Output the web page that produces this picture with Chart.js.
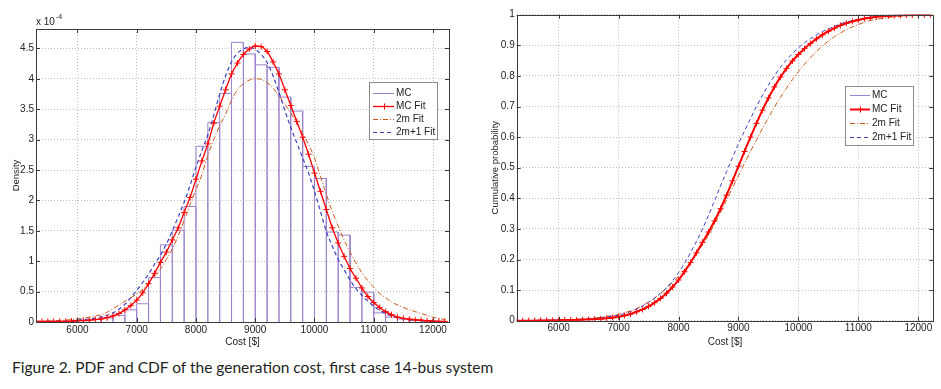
<!DOCTYPE html>
<html>
<head>
<meta charset="utf-8">
<script src="https://cdn.jsdelivr.net/npm/chart.js@4.4.1/dist/chart.umd.min.js"></script>
<style>
  html, body { margin: 0; padding: 0; background: #fff; }
  #wrap { position: relative; width: 941px; height: 389px; overflow: hidden; }
  #pdf { position: absolute; left: 0; top: 0; }
  #cdf { position: absolute; left: 470px; top: 0; }
  #caption { position: absolute; left: 12px; top: 360px; font: 15.5px Lato, 'Open Sans', sans-serif; line-height: 1; color: #231f20; white-space: nowrap; }
</style>
</head>
<body>
<div id="wrap">
  <canvas id="pdf" width="460" height="350"></canvas>
  <canvas id="cdf" width="471" height="350"></canvas>
  <div id="caption">Figure 2. PDF and CDF of the generation cost, first case 14-bus system</div>
</div>
<script>
// ---- data ----
var seriesLabels = ['MC', 'MC Fit', '2m Fit', '2m+1 Fit'];

var costTicks = [6000, 7000, 8000, 9000, 10000, 11000, 12000];
var densityTicks = [0, 0.5, 1, 1.5, 2, 2.5, 3, 3.5, 4, 4.5];   // x 10^-4
var probTicks = [0, 0.1, 0.2, 0.3, 0.4, 0.5, 0.6, 0.7, 0.8, 0.9, 1];

// histogram of the Monte Carlo samples (bin centres, density x 10^-4)
var histCenters = [5500, 5700, 5900, 6100, 6300, 6500, 6700, 6900, 7100, 7300,
  7500, 7700, 7900, 8100, 8300, 8500, 8700, 8900, 9100, 9300,
  9500, 9700, 9900, 10100, 10300, 10500, 10700, 10900, 11100, 11300,
  11500, 11700, 11900, 12100];
var histDensity = [0.01, 0.01, 0.01, 0.02, 0.04, 0.07, 0.11, 0.20, 0.30, 0.73,
  1.27, 1.51, 1.90, 2.89, 3.28, 3.76, 4.60, 4.41, 4.23, 4.19,
  3.70, 3.47, 2.56, 2.36, 1.48, 1.43, 0.57, 0.49, 0.15, 0.08,
  0.05, 0.03, 0.02, 0.01];

// cost grid for the fitted curves
var costs = [5300, 5400, 5500, 5600, 5700, 5800, 5900, 6000, 6100, 6200,
  6300, 6400, 6500, 6600, 6700, 6800, 6900, 7000, 7100, 7200,
  7300, 7400, 7500, 7600, 7700, 7800, 7900, 8000, 8100, 8200,
  8300, 8400, 8500, 8600, 8700, 8800, 8900, 9000, 9100, 9200,
  9300, 9400, 9500, 9600, 9700, 9800, 9900, 10000, 10100, 10200,
  10300, 10400, 10500, 10600, 10700, 10800, 10900, 11000, 11100, 11200,
  11300, 11400, 11500, 11600, 11700, 11800, 11900, 12000, 12100, 12200];

var pdfMcFit = [0.01, 0.01, 0.01, 0.01, 0.01, 0.01, 0.015, 0.02, 0.025, 0.03,
  0.04, 0.05, 0.07, 0.10, 0.14, 0.20, 0.27, 0.36, 0.48, 0.63,
  0.80, 0.98, 1.15, 1.35, 1.55, 1.80, 2.05, 2.35, 2.65, 2.93,
  3.27, 3.55, 3.82, 4.08, 4.26, 4.40, 4.49, 4.54, 4.53, 4.45,
  4.28, 4.08, 3.82, 3.56, 3.30, 3.04, 2.76, 2.45, 2.15, 1.85,
  1.55, 1.30, 1.08, 0.88, 0.72, 0.56, 0.42, 0.32, 0.24, 0.17,
  0.12, 0.08, 0.06, 0.045, 0.035, 0.03, 0.02, 0.015, 0.01, 0.01];

var pdf2m = [0.01, 0.01, 0.015, 0.02, 0.025, 0.03, 0.04, 0.05, 0.065, 0.08,
  0.10, 0.12, 0.16, 0.22, 0.28, 0.34, 0.40, 0.46, 0.54, 0.65,
  0.75, 0.87, 1.03, 1.20, 1.42, 1.67, 1.93, 2.18, 2.42, 2.74,
  3.00, 3.23, 3.42, 3.65, 3.82, 3.92, 3.98, 4.00, 3.99, 3.94,
  3.85, 3.72, 3.58, 3.44, 3.28, 3.10, 2.92, 2.70, 2.40, 2.10,
  1.82, 1.58, 1.35, 1.15, 0.97, 0.81, 0.68, 0.57, 0.47, 0.40,
  0.33, 0.28, 0.24, 0.20, 0.17, 0.14, 0.11, 0.08, 0.06, 0.04];

var pdf2m1 = [0.005, 0.005, 0.01, 0.01, 0.01, 0.015, 0.02, 0.03, 0.04, 0.05,
  0.065, 0.085, 0.11, 0.15, 0.21, 0.29, 0.40, 0.52, 0.65, 0.79,
  0.95, 1.10, 1.28, 1.50, 1.73, 1.97, 2.25, 2.55, 2.82, 3.08,
  3.40, 3.75, 4.05, 4.28, 4.42, 4.49, 4.52, 4.49, 4.40, 4.27,
  4.05, 3.78, 3.48, 3.20, 2.95, 2.70, 2.45, 2.15, 1.82, 1.49,
  1.25, 1.03, 0.86, 0.69, 0.55, 0.44, 0.34, 0.26, 0.19, 0.14,
  0.10, 0.07, 0.05, 0.035, 0.025, 0.02, 0.015, 0.01, 0.01, 0.005];

// empirical CDF of the samples
var mcCdfX = [5400, 5600, 5800, 6000, 6200, 6400, 6600, 6800, 7000, 7200,
  7400, 7600, 7800, 8000, 8200, 8400, 8600, 8800, 9000, 9200,
  9400, 9600, 9800, 10000, 10200, 10400, 10600, 10800, 11000, 11200,
  11400, 11600, 11800, 12000, 12200];
var mcCdf = [0, 0.0005, 0.001, 0.002, 0.002, 0.003, 0.005, 0.008, 0.013, 0.022,
  0.037, 0.059, 0.090, 0.133, 0.190, 0.256, 0.326, 0.410, 0.505, 0.600,
  0.688, 0.764, 0.824, 0.870, 0.906, 0.934, 0.956, 0.972, 0.983, 0.990,
  0.995, 0.997, 0.999, 1, 1];

var cdfMcFit = [0, 0, 0, 0, 0.001, 0.001, 0.001, 0.001, 0.002, 0.002,
  0.002, 0.003, 0.004, 0.005, 0.006, 0.008, 0.010, 0.013, 0.017, 0.022,
  0.029, 0.037, 0.047, 0.059, 0.073, 0.090, 0.110, 0.133, 0.160, 0.190,
  0.222, 0.256, 0.290, 0.326, 0.366, 0.410, 0.457, 0.505, 0.553, 0.600,
  0.645, 0.688, 0.728, 0.764, 0.796, 0.824, 0.849, 0.870, 0.889, 0.906,
  0.921, 0.934, 0.946, 0.956, 0.965, 0.972, 0.978, 0.983, 0.987, 0.990,
  0.993, 0.995, 0.996, 0.997, 0.998, 0.999, 0.999, 1, 1, 1];

var cdf2m = [0, 0, 0.001, 0.001, 0.001, 0.002, 0.002, 0.003, 0.003, 0.004,
  0.005, 0.006, 0.007, 0.009, 0.011, 0.014, 0.017, 0.021, 0.026, 0.032,
  0.040, 0.050, 0.061, 0.074, 0.089, 0.106, 0.125, 0.145, 0.167, 0.192,
  0.219, 0.248, 0.280, 0.316, 0.354, 0.394, 0.434, 0.474, 0.514, 0.553,
  0.591, 0.628, 0.664, 0.698, 0.730, 0.760, 0.788, 0.814, 0.838, 0.860,
  0.880, 0.898, 0.914, 0.928, 0.940, 0.951, 0.960, 0.968, 0.975, 0.981,
  0.985, 0.988, 0.991, 0.993, 0.995, 0.996, 0.997, 0.998, 0.999, 0.999];

var cdf2m1 = [0, 0, 0, 0.001, 0.001, 0.001, 0.002, 0.002, 0.003, 0.003,
  0.004, 0.005, 0.006, 0.008, 0.010, 0.012, 0.015, 0.018, 0.023, 0.030,
  0.038, 0.048, 0.060, 0.074, 0.090, 0.108, 0.131, 0.157, 0.188, 0.222,
  0.260, 0.300, 0.345, 0.392, 0.440, 0.487, 0.533, 0.578, 0.620, 0.660,
  0.700, 0.737, 0.770, 0.800, 0.828, 0.852, 0.873, 0.892, 0.908, 0.922,
  0.934, 0.945, 0.954, 0.962, 0.970, 0.976, 0.981, 0.985, 0.989, 0.992,
  0.994, 0.996, 0.997, 0.998, 0.999, 0.999, 1, 1, 1, 1];

// ---- styling ----
var tickFont = "'Liberation Sans Narrow', 'Liberation Sans', Arial, sans-serif";
Chart.defaults.font.family = tickFont;
Chart.defaults.color = '#222';

var PURPLE = '#9d82cc', RED = '#ff0000', ORANGE = '#c8581a', BLUE = '#3b44c0';
var GRID = '#bdbdbd';

function pts(xs, ys) {
  return xs.map(function(x, i) { return {x: x, y: ys[i]}; });
}

// matlab style bar outlines: every bin drawn as an open rectangle from the axis
function histOutline(centers, heights) {
  var bw = centers[1] - centers[0], out = [];
  centers.forEach(function(c, i) {
    var l = c - bw / 2, r = c + bw / 2;
    out.push({x: l, y: 0}, {x: l, y: heights[i]}, {x: r, y: heights[i]}, {x: r, y: 0});
  });
  return out;
}

// draws the matlab style box, inward ticks, exponent label and legend
var matlabFrame = {
  id: 'matlabFrame',
  afterDraw: function(chart, args, opts) {
    var ctx = chart.ctx, a = chart.chartArea;
    var xs = chart.scales.x, ys = chart.scales.y;
    ctx.save();
    ctx.strokeStyle = '#3a3a3a';
    ctx.lineWidth = 1;
    ctx.setLineDash([]);
    ctx.beginPath();
    xs.ticks.forEach(function(t) {
      var px = Math.round(xs.getPixelForValue(t.value)) + 0.5;
      ctx.moveTo(px, a.bottom); ctx.lineTo(px, a.bottom - 4);
      ctx.moveTo(px, a.top); ctx.lineTo(px, a.top + 4);
    });
    ys.ticks.forEach(function(t) {
      var py = Math.round(ys.getPixelForValue(t.value)) + 0.5;
      ctx.moveTo(a.left, py); ctx.lineTo(a.left + 4, py);
      ctx.moveTo(a.right, py); ctx.lineTo(a.right - 4, py);
    });
    ctx.stroke();
    ctx.strokeRect(Math.round(a.left) + 0.5, Math.round(a.top) + 0.5,
                   Math.round(a.right) - Math.round(a.left), Math.round(a.bottom) - Math.round(a.top));

    if (opts.exponent) {
      var e = opts.exponent;
      ctx.fillStyle = '#222';
      ctx.textBaseline = 'middle';
      ctx.textAlign = 'left';
      ctx.font = '10px ' + tickFont;
      ctx.fillText('x 10', e.x, e.y);
      var w = ctx.measureText('x 10').width;
      ctx.font = '7px ' + tickFont;
      ctx.fillText('-4', e.x + w + 1, e.y - 5);
    }

    if (opts.legend) {
      var L = opts.legend;
      ctx.fillStyle = '#fff';
      ctx.fillRect(L.x, L.y, L.w, L.h);
      ctx.strokeStyle = '#8c8c8c';
      ctx.strokeRect(L.x + 0.5, L.y + 0.5, L.w, L.h);
      ctx.font = '10px ' + tickFont;
      ctx.textBaseline = 'middle';
      ctx.textAlign = 'left';
      chart.data.datasets.forEach(function(ds, i) {
        var ry = Math.round(L.y + L.first + i * L.row) + 0.5;
        ctx.strokeStyle = ds.borderColor;
        ctx.lineWidth = ds.borderWidth;
        ctx.setLineDash(ds.borderDash || []);
        ctx.beginPath();
        ctx.moveTo(L.x + L.s0, ry);
        ctx.lineTo(L.x + L.s1, ry);
        ctx.stroke();
        ctx.setLineDash([]);
        if (ds.pointStyle === 'cross') {
          var mx = Math.round(L.x + (L.s0 + L.s1) / 2) + 0.5;
          ctx.lineWidth = 1;
          ctx.beginPath();
          ctx.moveTo(mx, ry - 3); ctx.lineTo(mx, ry + 3);
          ctx.stroke();
        }
        ctx.fillStyle = '#222';
        ctx.fillText(ds.label, L.x + L.tx, ry);
      });
    }
    ctx.restore();
  }
};

function xAxis(max, height) {
  return {
    type: 'linear', min: 5300, max: max, offset: false,
    afterBuildTicks: function(s) { s.ticks = costTicks.map(function(v) { return {value: v}; }); },
    afterFit: function(s) { s.height = height; },
    ticks: { padding: 2, autoSkip: false, maxRotation: 0, font: {size: 10}, color: '#222',
             callback: function(v) { return String(v); } },
    grid: { color: GRID, drawTicks: false, offset: false },
    border: { display: false, dash: [1, 2] },
    title: { display: true, text: 'Cost [$]', font: {size: 10}, color: '#222', padding: {top: 0, bottom: 1.5} }
  };
}

function yAxis(max, tickList, width, title, titlePad) {
  return {
    type: 'linear', min: 0, max: max,
    afterBuildTicks: function(s) { s.ticks = tickList.map(function(v) { return {value: v}; }); },
    afterFit: function(s) { s.width = width; },
    ticks: { padding: 2, autoSkip: false, font: {size: 10}, color: '#222',
             callback: function(v) { return String(v); } },
    grid: { color: GRID, drawTicks: false },
    border: { display: false, dash: [1, 2] },
    title: { display: true, text: title, font: {size: 9.5}, color: '#222', padding: {top: titlePad, bottom: 0} }
  };
}

var common = {
  responsive: false,
  animation: false,
  events: [],
  plugins: { legend: { display: false }, tooltip: { enabled: false } }
};

// PDF
new Chart(document.getElementById('pdf'), {
  type: 'line',
  data: {
    datasets: [{
      label: seriesLabels[0],
      data: histOutline(histCenters, histDensity),
      borderColor: PURPLE,
      borderWidth: 1,
      pointRadius: 0,
      order: 3
    }, {
      label: seriesLabels[1],
      data: pts(costs, pdfMcFit),
      borderColor: RED,
      borderWidth: 1.3,
      pointStyle: 'cross',
      pointRadius: 3,
      pointBorderWidth: 1,
      pointBorderColor: RED,
      cubicInterpolationMode: 'monotone',
      order: 0
    }, {
      label: seriesLabels[2],
      data: pts(costs, pdf2m),
      borderColor: ORANGE,
      borderWidth: 1,
      borderDash: [5, 2, 1, 2],
      pointRadius: 0,
      cubicInterpolationMode: 'monotone',
      order: 2
    }, {
      label: seriesLabels[3],
      data: pts(costs, pdf2m1),
      borderColor: BLUE,
      borderWidth: 1.2,
      borderDash: [4, 3],
      pointRadius: 0,
      cubicInterpolationMode: 'monotone',
      order: 1
    }]
  },
  options: Object.assign({}, common, {
    layout: { padding: { left: 0, top: 29, right: 11, bottom: 0 } },
    scales: {
      x: xAxis(12270, 28),
      y: yAxis(4.82, densityTicks, 36, 'Density', 11)
    },
    plugins: Object.assign({}, common.plugins, {
      matlabFrame: {
        exponent: { x: 36, y: 22 },
        legend: { x: 369, y: 82, w: 68, h: 57, first: 10.5, row: 13, s0: 4, s1: 25, tx: 27 }
      }
    })
  }),
  plugins: [matlabFrame]
});

// CDF
new Chart(document.getElementById('cdf'), {
  type: 'line',
  data: {
    datasets: [{
      label: seriesLabels[0],
      data: pts(mcCdfX, mcCdf),
      borderColor: PURPLE,
      borderWidth: 1,
      pointRadius: 0,
      cubicInterpolationMode: 'monotone',
      order: 3
    }, {
      label: seriesLabels[1],
      data: pts(costs, cdfMcFit),
      borderColor: RED,
      borderWidth: 2,
      pointStyle: 'cross',
      pointRadius: 3,
      pointBorderWidth: 1,
      pointBorderColor: RED,
      cubicInterpolationMode: 'monotone',
      order: 0
    }, {
      label: seriesLabels[2],
      data: pts(costs, cdf2m),
      borderColor: ORANGE,
      borderWidth: 1,
      borderDash: [5, 2, 1, 2],
      pointRadius: 0,
      cubicInterpolationMode: 'monotone',
      order: 2
    }, {
      label: seriesLabels[3],
      data: pts(costs, cdf2m1),
      borderColor: BLUE,
      borderWidth: 1,
      borderDash: [4, 3],
      pointRadius: 0,
      cubicInterpolationMode: 'monotone',
      order: 1
    }]
  },
  options: Object.assign({}, common, {
    layout: { padding: { left: 0, top: 14.7, right: 7.7, bottom: 0 } },
    scales: {
      x: xAxis(12250, 29.3),
      y: yAxis(1, probTicks, 46.7, 'Cumulative probability', 20)
    },
    plugins: Object.assign({}, common.plugins, {
      matlabFrame: {
        legend: { x: 375, y: 86, w: 68, h: 59, first: 8.5, row: 14, s0: 5, s1: 25, tx: 27 }
      }
    })
  }),
  plugins: [matlabFrame]
});
</script>
</body>
</html>
